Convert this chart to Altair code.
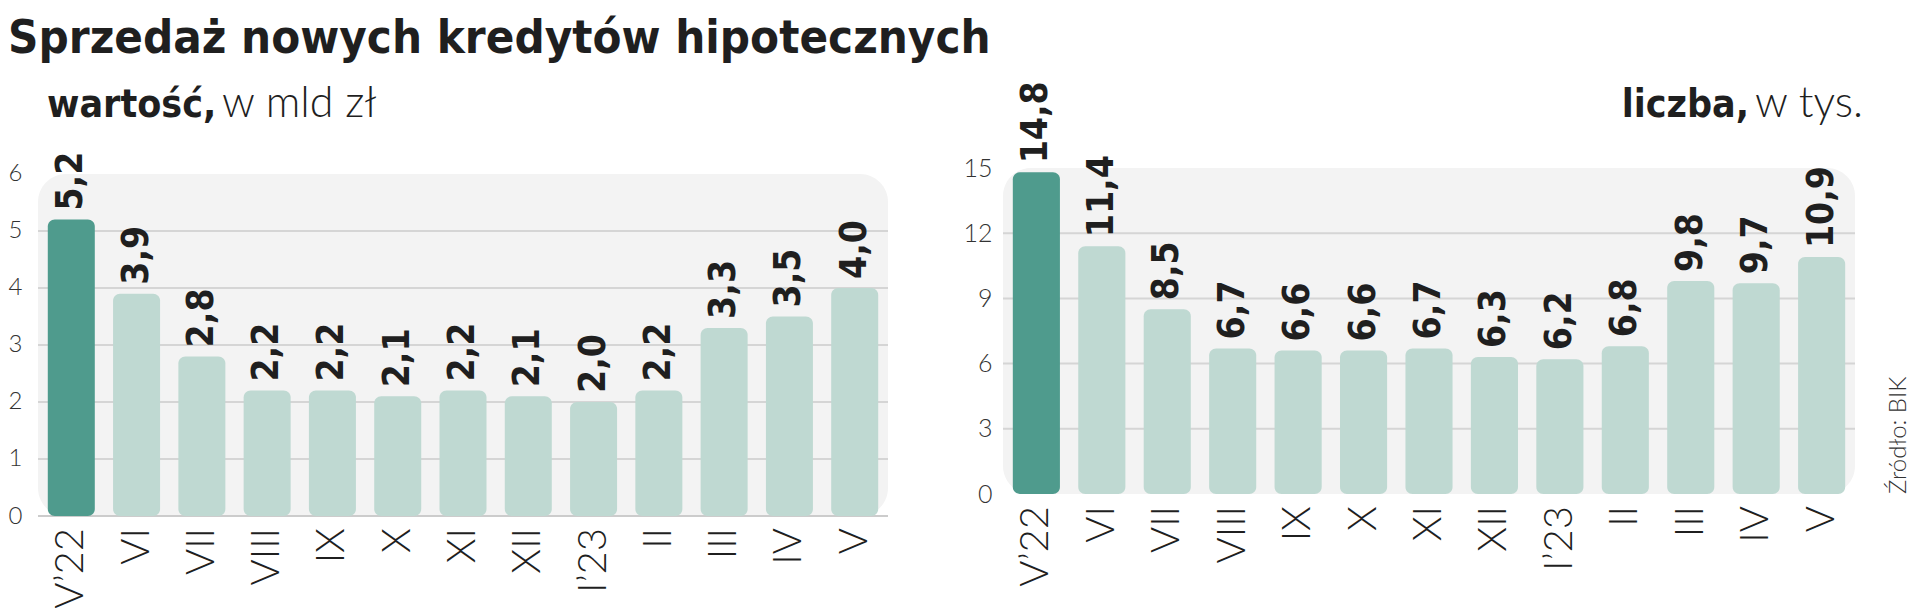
import altair as alt
import pandas as pd

# ---- data ----
months = ["V’22", "VI", "VII", "VIII", "IX", "X", "XI", "XII", "I’23", "II", "III", "IV", "V"]
value_bln = [5.2, 3.9, 2.8, 2.2, 2.2, 2.1, 2.2, 2.1, 2.0, 2.2, 3.3, 3.5, 4.0]
count_ths = [14.8, 11.4, 8.5, 6.7, 6.6, 6.6, 6.7, 6.3, 6.2, 6.8, 9.8, 9.7, 10.9]
highlight = ["hl"] + ["base"] * 12

left_ticks = [0, 1, 2, 3, 4, 5, 6]
left_grid = [1, 2, 3, 4, 5]
right_ticks = [0, 3, 6, 9, 12, 15]
right_grid = [3, 6, 9, 12]

title_text = "Sprzedaż nowych kredytów hipotecznych"
source_text = "Źródło: BIK"

# ---- style ----
BOLD = "Liberation Sans Narrow, DejaVu Sans Condensed, Roboto Condensed, sans-serif"
LIGHT = "Lato, Roboto, sans-serif"
DARK = "#1f1f1f"
AXIS_C = "#333333"
HL = "#4f9b8d"
LIGHTBAR = "#bfd9d2"
BG = "#f3f3f3"
GRID = "#d5d5d5"


def panel(values, W, H, dom, ticks, grid, bg_top, label_size, label_pad,
          sub_parts, baseline=False, source=False):
    df = pd.DataFrame({
        "m": months,
        "v": values,
        "lab": [f"{v:.1f}".replace(".", ",") for v in values],
        "hl": highlight,
    })
    yscale = alt.Scale(domain=dom, nice=False, zero=False)
    yaxis = alt.Axis(values=ticks, title=None, grid=False, domain=False, ticks=False,
                     labelFont=LIGHT, labelFontWeight=300, labelFontSize=label_size,
                     labelColor=AXIS_C, labelPadding=label_pad)
    xenc = alt.X("m:N", sort=months, axis=None,
                 scale=alt.Scale(paddingInner=0.28, paddingOuter=0.15))

    def Yf(field):
        return alt.Y(field, scale=yscale, axis=yaxis)

    def Yd(d):
        return alt.Y(datum=d, type="quantitative", scale=yscale, axis=yaxis)

    one = pd.DataFrame({"a": [0]})

    bg = alt.Chart(one).mark_rect(color=BG, cornerRadius=28).encode(
        x=alt.value(0), x2=alt.value(W), y=Yd(bg_top), y2=alt.Y2(datum=0))

    gr = alt.Chart(pd.DataFrame({"g": grid})).mark_rule(color=GRID, strokeWidth=2).encode(
        x=alt.value(0), x2=alt.value(W), y=Yf("g:Q"))

    layers = [bg, gr]
    if baseline:
        layers.append(alt.Chart(one).mark_rule(color="#cccccc", strokeWidth=2).encode(
            x=alt.value(0), x2=alt.value(W), y=Yd(0)))

    bars = alt.Chart(df).mark_bar(cornerRadius=7).encode(
        x=xenc, y=Yf("v:Q"), y2=alt.Y2(datum=0),
        color=alt.Color("hl:N", scale=alt.Scale(domain=["hl", "base"], range=[HL, LIGHTBAR]),
                        legend=None))

    vlab = alt.Chart(df).mark_text(align="left", baseline="middle", angle=270, dx=9,
                                   font=BOLD, fontSize=37, fontWeight="bold",
                                   color=DARK).encode(x=xenc, y=Yf("v:Q"), text="lab:N")

    xlab = alt.Chart(df).mark_text(align="right", baseline="middle", angle=270, dx=-12,
                                   font=LIGHT, fontSize=40, fontWeight=300,
                                   color=DARK).encode(x=xenc, y=Yd(0), text="m:N")
    layers += [bars, vlab, xlab]

    for txt, xpos, align, weight, font, size in sub_parts:
        layers.append(alt.Chart(pd.DataFrame({"t": [txt]})).mark_text(
            align=align, baseline="alphabetic", font=font, fontSize=size,
            fontWeight=weight, color=DARK).encode(
            x=alt.value(xpos), y=alt.value(-51), text="t:N"))

    if source:
        layers.append(alt.Chart(pd.DataFrame({"t": [source_text]})).mark_text(
            align="left", baseline="middle", angle=270, font=LIGHT, fontSize=24,
            fontWeight=300, color=AXIS_C).encode(
            x=alt.value(W + 44), y=Yd(0), text="t:N"))

    return alt.layer(*layers).properties(width=W, height=H)


left = panel(value_bln, 850, 348, [0, 6.105], left_ticks, left_grid, 6, 24, 16,
             [("wartość,", 9, "left", "bold", BOLD, 39),
              ("w mld zł", 184, "left", 300, LIGHT, 43)],
             baseline=True)
right = panel(count_ths, 852, 348, [-1.012, 15], right_ticks, right_grid, 15, 25, 11,
              [("liczba,", 746, "right", "bold", BOLD, 39),
               ("w tys.", 860, "right", 300, LIGHT, 43)],
              source=True)

chart = alt.hconcat(left, right, spacing=73).properties(
    title=alt.TitleParams(title_text, anchor="start", font=BOLD, fontSize=47,
                          fontWeight="bold", color=DARK, offset=18),
    padding={"left": 0, "top": 7, "right": 0, "bottom": 0},
    background="white",
).configure_view(stroke=None)

chart.save("out.html", embed_options={"renderer": "svg", "actions": False})
